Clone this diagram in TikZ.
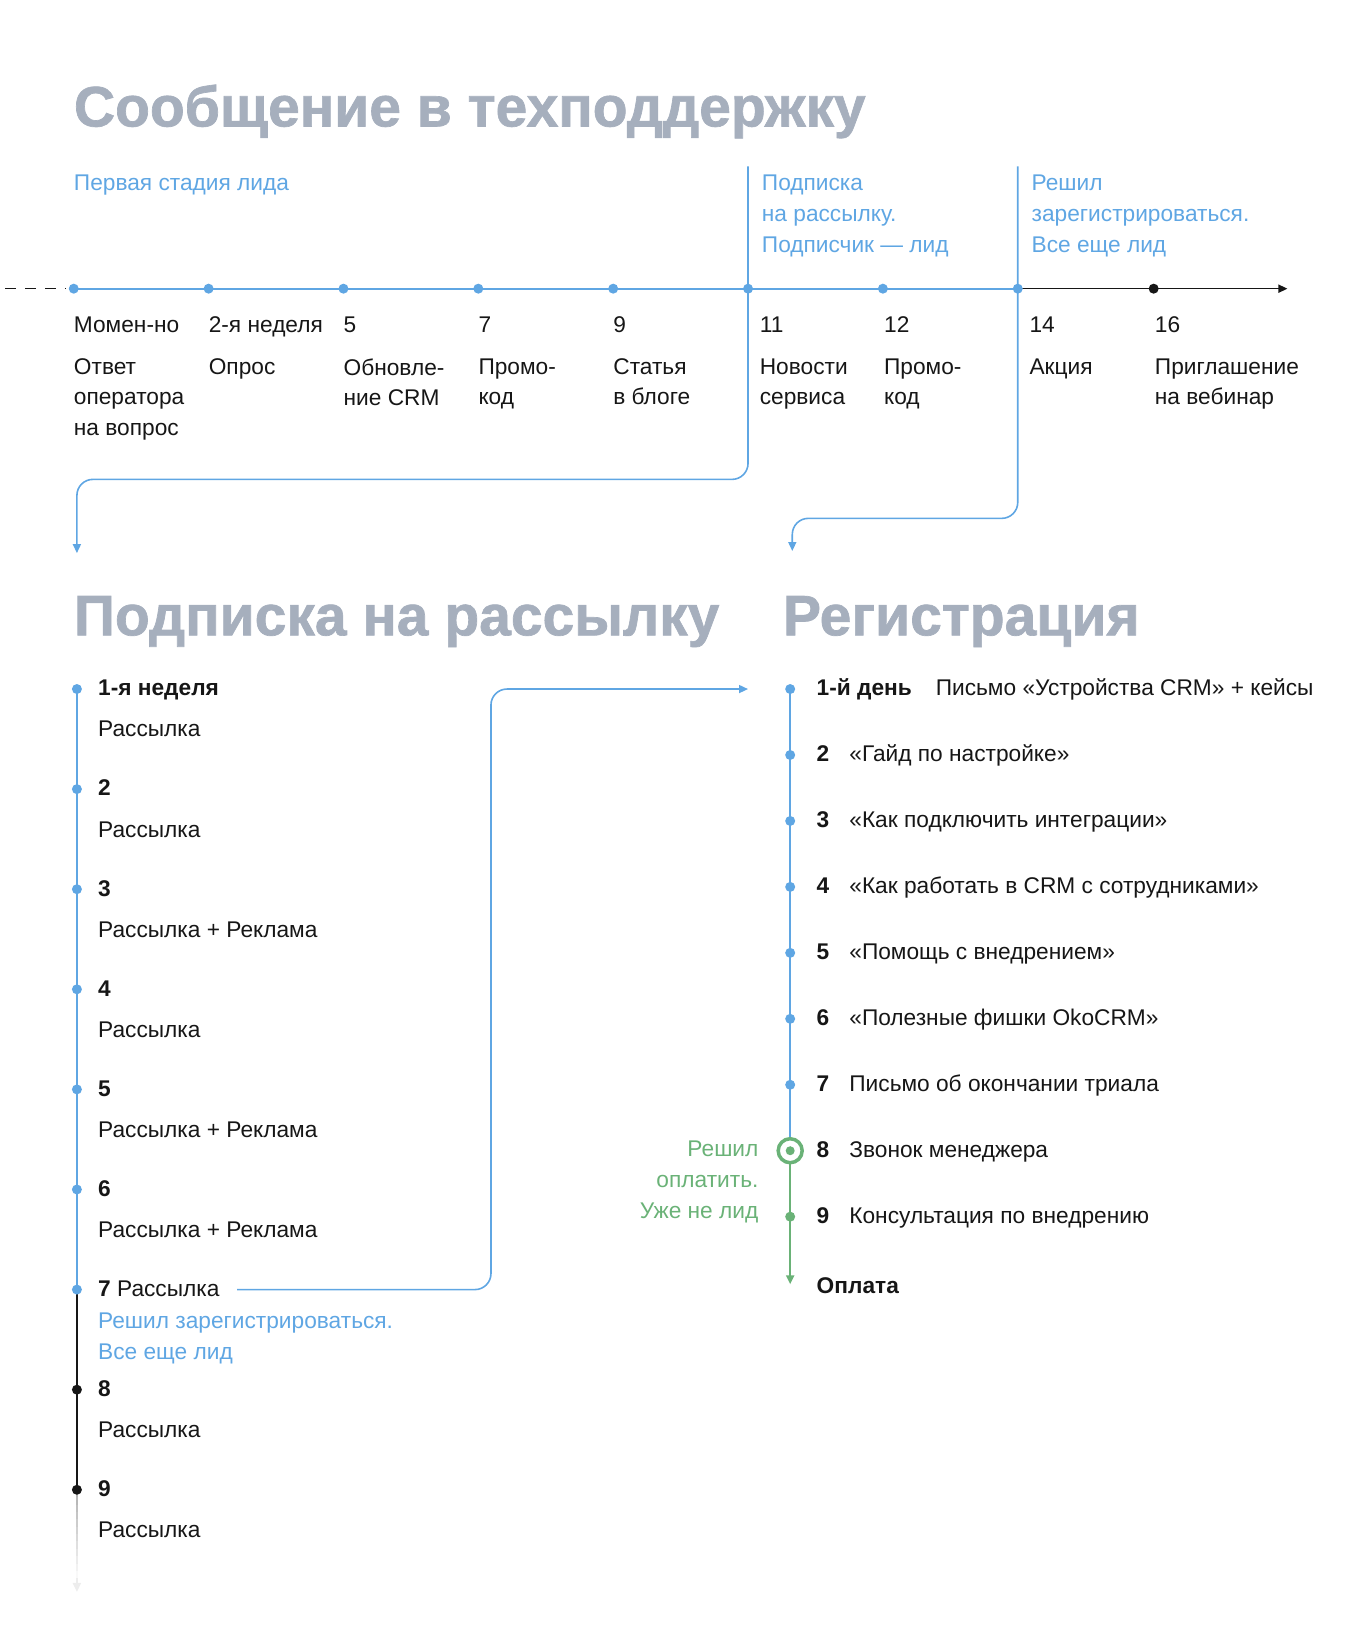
\documentclass[tikz,border=0pt]{standalone}
\usepackage{fontspec}
\setmainfont{Liberation Sans}
\newfontfamily\headfamily[FakeBold=1.2]{Liberation Sans Bold}
\usepackage{tikz}
\usetikzlibrary{arrows.meta}

\definecolor{leadblue}{HTML}{5FA6E3}
\definecolor{headgray}{HTML}{A6AFBD}
\definecolor{paygreen}{HTML}{6AB277}
\definecolor{inkblack}{HTML}{161616}

\newcommand{\bodyfont}{\fontsize{22.7}{30.6}\selectfont}
\newcommand{\headfont}{\fontsize{57}{60}\selectfont\headfamily}

\tikzset{
  heading/.style={anchor=base west, inner sep=0pt, text=headgray, font=\headfont},
  txt/.style={anchor=base west, inner sep=0pt, align=left, text=inkblack, font=\bodyfont},
  block/.style={txt, anchor=north west},
  num/.style={txt, font=\bodyfont\bfseries},
  bluenote/.style={block, text=leadblue},
  bluedot/.style={circle, fill=leadblue, inner sep=0pt, minimum size=10pt},
  blackdot/.style={bluedot, fill=inkblack},
  greendot/.style={bluedot, fill=paygreen},
  link/.style={leadblue, line width=1.6pt, rounded corners=16pt},
  arrowend/.style={-{Triangle[length=9pt,width=8pt]}}
}

\begin{document}
\begin{tikzpicture}[x=1.0535pt,y=-1.0535pt]
\useasboundingbox (0,0) rectangle (1291,1568);

% support message
\node[heading] (h1) at (70,120) {Сообщение в техподдержку};
\node[bluenote] (n0) at (70,166.1) {Первая стадия лида};
\node[bluenote] (n1) at (723,166.1) {Подписка\\на рассылку.\\Подписчик — лид};
\node[bluenote] (n2) at (979,166.1) {Решил\\зарегистрироваться.\\Все еще лид};

\foreach \x [count=\i from 0] in {70,198,326,454,582,710,838,966,1095}
  \coordinate (t\i) at (\x,274);
\coordinate (tstart) at (5,274);
\coordinate (tdash) at (62,274);
\coordinate (tend) at (1222,274);

% links down to the two lists
\coordinate (c1) at (710,158);
\coordinate (lvl1) at (400,455);
\coordinate (subin) at (73,525);
\coordinate (c2) at (966,158);
\coordinate (lvl2) at (860,492);
\coordinate (regin) at (752,523);
\draw[link, arrowend] (c1) |- (lvl1) -| (subin);
\draw[link, arrowend] (c2) |- (lvl2) -| (regin);

\draw[inkblack, line width=1.6pt, dash pattern=on 11pt off 9pt] (tstart) -- (tdash);
\draw[leadblue, line width=2.2pt] (t0) -- (t7);
\draw[inkblack, line width=1.6pt, arrowend] (t7) -- (tend);
\foreach \i in {0,...,7}
  \node[bluedot] at (t\i) {};
\node[blackdot] at (t8) {};

\foreach \x/\d/\t [count=\i from 0] in {70/Момен-но/{Ответ\\оператора\\на вопрос},
    198/2-я неделя/Опрос, 326/5/{Обновле-\\ние CRM}, 454/7/{Промо-\\код},
    582/9/{Статья\\в блоге}, 721/11/{Новости\\сервиса}, 839/12/{Промо-\\код},
    977/14/Акция, 1096/16/{Приглашение\\на вебинар}} {
  \node[txt] (d\i) at (\x,315.5) {\d};
  \node[block] (e\i) at (\x,340.1) {\t};
}

% subscription
\node[heading] (h2) at (70,603) {Подписка на рассылку};
\foreach \i in {1,...,9}
  \coordinate (s\i) at (73,{654+(\i-1)*95});
\draw[leadblue, line width=2pt] (s1) -- (s7);
\draw[inkblack, line width=2pt] (s7) -- (s9);
\foreach \k in {0,...,11}
  \draw[black!30, opacity={1-\k/12}, line width=2pt] (73,{1414+\k*7}) -- ++(0,7);
\coordinate (sfade) at (73,1498);
\coordinate (send) at (73,1511);
\draw[black!7, line width=2pt, arrowend] (sfade) -- (send);
\foreach \i in {1,...,7}
  \node[bluedot] at (s\i) {};
\node[blackdot] at (s8) {};
\node[blackdot] at (s9) {};

\foreach \n/\t [count=\i] in {1-я неделя/Рассылка, 2/Рассылка, 3/Рассылка + Реклама,
    4/Рассылка, 5/Рассылка + Реклама, 6/Рассылка + Реклама} {
  \node[num] (sn\i) at (93,{660.5+(\i-1)*95}) {\n};
  \node[txt] (st\i) at (93,{699.5+(\i-1)*95}) {\t};
}
\node[txt] (sn7) at (93,1230.5) {\textbf{7} Рассылка};
\node[bluenote] (sreg) at (93,1246.1) {Решил зарегистрироваться.\\Все еще лид};
\node[num] (sn8) at (93,1325.5) {8};
\node[txt] (st8) at (93,1364.5) {Рассылка};
\node[num] (sn9) at (93,1420.5) {9};
\node[txt] (st9) at (93,1459.5) {Рассылка};

% registration
\node[heading] (h3) at (743,603) {Регистрация};
\foreach \i in {1,...,9}
  \coordinate (r\i) at (750,{654+(\i-1)*62.6});
\coordinate (rend) at (750,1219);
\coordinate (s7out) at (225,1224);
\coordinate (lvl3) at (466,900);
\coordinate (r1in) at (710,654);
\draw[link, arrowend] (s7out) -| (lvl3) |- (r1in);

\draw[leadblue, line width=2pt] (r1) -- (r8);
\draw[paygreen, line width=2pt, arrowend] (r8) -- (rend);
\foreach \i in {1,...,7}
  \node[bluedot] at (r\i) {};
\node[circle, draw=paygreen, fill=white, line width=3.5pt, minimum size=24pt, inner sep=0pt] (ring) at (r8) {};
\fill[paygreen] (ring.center) circle (4.5pt);
\node[greendot] at (r9) {};

\node[num] (rn1) at (775,660.5) {1-й день};
\node[txt] (rt1) at (888,660.5) {Письмо «Устройства CRM» + кейсы};
\foreach \t [count=\i from 2] in {«Гайд по настройке», «Как подключить интеграции»,
    «Как работать в CRM с сотрудниками», «Помощь с внедрением», «Полезные фишки OkoCRM»,
    Письмо об окончании триала, Звонок менеджера, Консультация по внедрению} {
  \node[num] (rn\i) at (775,{660.5+(\i-1)*62.6}) {\i};
  \node[txt] (rt\i) at (806,{660.5+(\i-1)*62.6}) {\t};
}
\node[num] (pay) at (775,1227.5) {Оплата};
\node[block, text=paygreen, anchor=north east, align=right] (paynote) at (720,1083.1) {Решил\\оплатить.\\Уже не лид};

\end{tikzpicture}
\end{document}
